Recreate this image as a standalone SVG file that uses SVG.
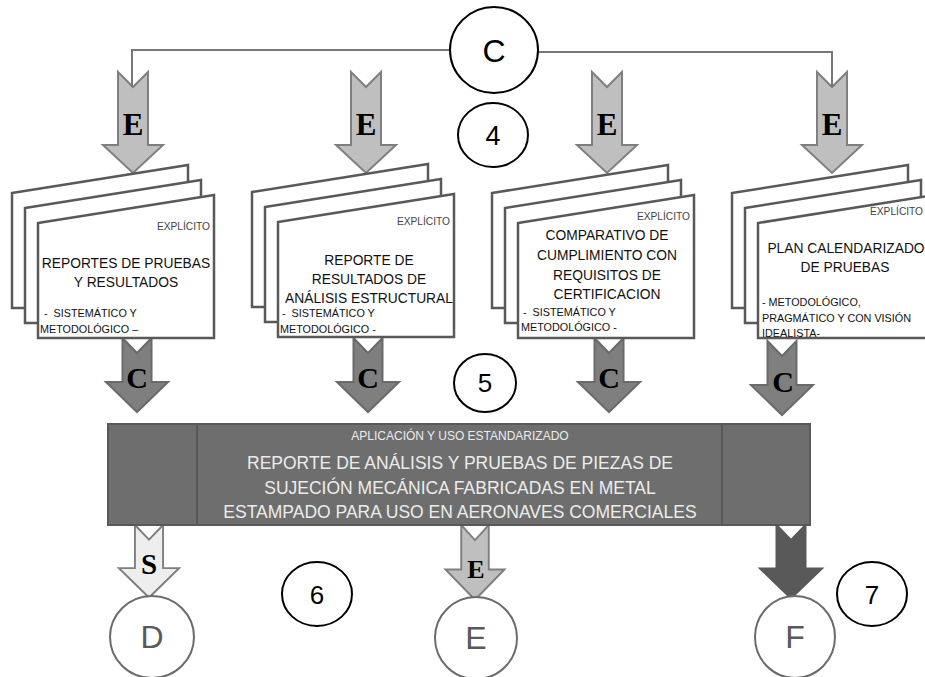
<svg xmlns="http://www.w3.org/2000/svg" xmlns:xlink="http://www.w3.org/1999/xlink" width="925" height="677" viewBox="0 0 925 677">
  <style>
    .page { fill:#ffffff; stroke:#595959; stroke-width:2.5; stroke-linejoin:miter; }
    .arE { fill:#bfbfbf; stroke:#7f7f7f; stroke-width:2; }
    .arC { fill:#7f7f7f; stroke:#6a6a6a; stroke-width:2; }
    .arS { fill:#eeeeee; stroke:#7f7f7f; stroke-width:2; }
    .arF { fill:#595959; stroke:#595959; stroke-width:2; }
    .wire { fill:none; stroke:#777777; stroke-width:2; }
    .lbl { font-family:"Liberation Serif","Times New Roman",serif; font-weight:bold; fill:#000; text-anchor:middle; }
    .t { font-family:"Liberation Sans",Arial,sans-serif; fill:#111; }
    .ttl { font-size:13.8px; text-anchor:middle; }
    .sm { font-size:10.8px; }
    .xp { font-size:10.2px; fill:#444; }
    .ring { fill:#fff; stroke:#000; stroke-width:2; }
    .ringG { fill:#fff; stroke:#6b6b6b; stroke-width:2; }
    .num { font-family:"Liberation Sans",Arial,sans-serif; text-anchor:middle; fill:#000; }
    .numG { font-family:"Liberation Sans",Arial,sans-serif; text-anchor:middle; fill:#595959; font-size:32px; }
    .box { fill:#6e6e6e; stroke:#595959; stroke-width:2; }
    .boxT { font-family:"Liberation Sans",Arial,sans-serif; fill:#ececec; text-anchor:middle; }
  </style>
  <defs>
    <!-- one slanted sheet of a document stack, origin at its top-left corner -->
    <path id="sheet" d="M0,0 L176,-28 L176,115 L0,115 Z"/>
    <!-- long notched block arrow (top row) -->
    <path id="arrowLong" d="M-15,0 L0,15 L15,0 L15,73 L30,73 L0,101 L-30,73 L-15,73 Z"/>
    <!-- short notched block arrow -->
    <path id="arrowShort" d="M-14.5,0 L0,15 L14.5,0 L14.5,44 L31,44 L0,74 L-31,44 L-14.5,44 Z"/>
  </defs>

  <rect width="925" height="677" fill="#ffffff"/>

  <!-- connectors -->
  <g id="connectors">
    <use xlink:href="#arrowLong" class="arE" transform="translate(133,72)"/>
    <use xlink:href="#arrowLong" class="arE" transform="translate(366,72)"/>
    <use xlink:href="#arrowLong" class="arE" transform="translate(607,72)"/>
    <use xlink:href="#arrowLong" class="arE" transform="translate(832,72)"/>
    <polyline class="wire" points="450,50 132,50 132,87"/>
    <polyline class="wire" points="538,52 832,52 832,87"/>
    <text class="lbl" x="133" y="135" font-size="31">E</text>
    <text class="lbl" x="366" y="135" font-size="31">E</text>
    <text class="lbl" x="607" y="135" font-size="31">E</text>
    <text class="lbl" x="832" y="135" font-size="31">E</text>

    <use xlink:href="#arrowShort" class="arC" transform="translate(137,338)"/>
    <use xlink:href="#arrowShort" class="arC" transform="translate(368,338)"/>
    <use xlink:href="#arrowShort" class="arC" transform="translate(609,338)"/>
    <use xlink:href="#arrowShort" class="arC" transform="translate(782,341)"/>
    <text class="lbl" x="137" y="388" font-size="30">C</text>
    <text class="lbl" x="368" y="388" font-size="30">C</text>
    <text class="lbl" x="609" y="388" font-size="30">C</text>
    <text class="lbl" x="783" y="392" font-size="30">C</text>

    <use xlink:href="#arrowShort" class="arS" transform="translate(149,525) scale(0.97,0.98)"/>
    <use xlink:href="#arrowShort" class="arE" transform="translate(475,525) scale(0.95,1.01)"/>
    <use xlink:href="#arrowShort" class="arF" transform="translate(791,525) scale(1,0.99)"/>
    <text class="lbl" x="149" y="574" font-size="29">S</text>
    <text class="lbl" x="476" y="578" font-size="26">E</text>
  </g>

  <!-- top source node -->
  <g id="node-c">
    <ellipse class="ring" cx="494" cy="50" rx="44" ry="43"/>
    <text class="num" x="494" y="62" font-size="32">C</text>
  </g>
  <g id="step-4">
    <ellipse class="ring" cx="493" cy="135" rx="35" ry="32"/>
    <text class="num" x="493" y="145" font-size="27">4</text>
  </g>

  <!-- document stacks -->
  <g id="doc-1">
    <use xlink:href="#sheet" class="page" transform="translate(12,193)"/>
    <use xlink:href="#sheet" class="page" transform="translate(25,208)"/>
    <use xlink:href="#sheet" class="page" transform="translate(38,223)"/>
    <text class="t xp" x="210" y="230" text-anchor="end">EXPLÍCITO</text>
    <text class="t ttl" x="126" y="268">REPORTES DE PRUEBAS</text>
    <text class="t ttl" x="126" y="287">Y RESULTADOS</text>
    <text class="t sm" x="44" y="317" xml:space="preserve">-  SISTEMÁTICO Y</text>
    <text class="t sm" x="40" y="333">METODOLÓGICO –</text>
  </g>

  <g id="doc-2">
    <use xlink:href="#sheet" class="page" transform="translate(252,192)"/>
    <use xlink:href="#sheet" class="page" transform="translate(265,207)"/>
    <use xlink:href="#sheet" class="page" transform="translate(278,222)"/>
    <text class="t xp" x="450" y="225" text-anchor="end">EXPLÍCITO</text>
    <text class="t ttl" x="369" y="265">REPORTE DE</text>
    <text class="t ttl" x="369" y="284">RESULTADOS DE</text>
    <text class="t ttl" x="369" y="303">ANÁLISIS ESTRUCTURAL</text>
    <text class="t sm" x="282" y="317" xml:space="preserve">-  SISTEMÁTICO Y</text>
    <text class="t sm" x="280" y="333">METODOLÓGICO -</text>
  </g>

  <g id="doc-3">
    <use xlink:href="#sheet" class="page" transform="translate(492,193)"/>
    <use xlink:href="#sheet" class="page" transform="translate(505,208)"/>
    <use xlink:href="#sheet" class="page" transform="translate(518,223)"/>
    <text class="t xp" x="690" y="220" text-anchor="end">EXPLÍCITO</text>
    <text class="t ttl" x="607" y="240">COMPARATIVO DE</text>
    <text class="t ttl" x="607" y="260">CUMPLIMIENTO CON</text>
    <text class="t ttl" x="607" y="280">REQUISITOS DE</text>
    <text class="t ttl" x="607" y="299">CERTIFICACION</text>
    <text class="t sm" x="523" y="316" xml:space="preserve">-  SISTEMÁTICO Y</text>
    <text class="t sm" x="521" y="331">METODOLÓGICO -</text>
  </g>

  <g id="doc-4">
    <use xlink:href="#sheet" class="page" transform="translate(732,193)"/>
    <use xlink:href="#sheet" class="page" transform="translate(745,208)"/>
    <use xlink:href="#sheet" class="page" transform="translate(758,223)"/>
    <text class="t xp" x="870" y="215">EXPLÍCITO</text>
    <text class="t ttl" x="846" y="253">PLAN CALENDARIZADO</text>
    <text class="t ttl" x="845" y="272">DE PRUEBAS</text>
    <text class="t sm" x="762" y="306">- METODOLÓGICO,</text>
    <text class="t sm" x="762" y="322">PRAGMÁTICO Y CON VISIÓN</text>
    <text class="t sm" x="762" y="337">IDEALISTA-</text>
  </g>

  <g id="step-5">
    <ellipse class="ring" cx="485" cy="383" rx="31" ry="29"/>
    <text class="num" x="485" y="392" font-size="26">5</text>
  </g>

  <!-- consolidated report -->
  <g id="report">
    <rect class="box" x="108" y="424" width="702" height="101"/>
    <line x1="197" y1="424" x2="197" y2="525" stroke="#595959" stroke-width="2"/>
    <line x1="722" y1="424" x2="722" y2="525" stroke="#595959" stroke-width="2"/>
    <text class="boxT" x="460" y="440" font-size="12">APLICACIÓN Y USO ESTANDARIZADO</text>
    <text class="boxT" x="460" y="469" font-size="17.5">REPORTE DE ANÁLISIS Y PRUEBAS DE PIEZAS DE</text>
    <text class="boxT" x="460" y="494" font-size="17.5">SUJECIÓN MECÁNICA FABRICADAS EN METAL</text>
    <text class="boxT" x="460" y="518" font-size="17.5">ESTAMPADO PARA USO EN AERONAVES COMERCIALES</text>
  </g>

  <g id="step-6">
    <ellipse class="ring" cx="317" cy="594" rx="35" ry="32"/>
    <text class="num" x="317" y="604" font-size="26">6</text>
  </g>
  <g id="step-7">
    <ellipse class="ring" cx="872" cy="594" rx="35" ry="32"/>
    <text class="num" x="872" y="604" font-size="26">7</text>
  </g>

  <g id="node-d">
    <ellipse class="ringG" cx="152" cy="637" rx="42" ry="41"/>
    <text class="numG" x="152" y="648">D</text>
  </g>
  <g id="node-e">
    <ellipse class="ringG" cx="476" cy="638" rx="41" ry="41"/>
    <text class="numG" x="476" y="649">E</text>
  </g>
  <g id="node-f">
    <ellipse class="ringG" cx="795" cy="637" rx="40" ry="41"/>
    <text class="numG" x="795" y="648">F</text>
  </g>
</svg>
